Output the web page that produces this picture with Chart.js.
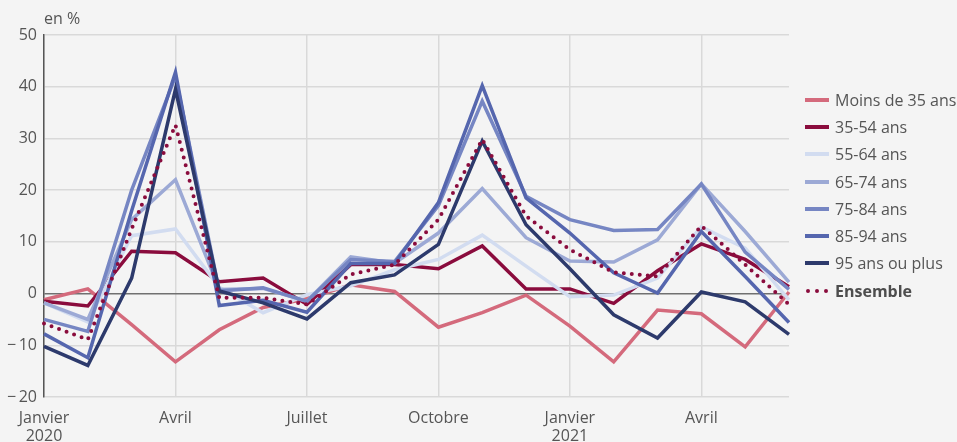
<!DOCTYPE html>
<html lang="fr">
<head>
<meta charset="utf-8">
<title>Évolution par âge</title>
<script src="https://cdn.jsdelivr.net/npm/chart.js@4.4.1/dist/chart.umd.min.js"></script>
<style>
    html, body { margin: 0; padding: 0; background: #f4f4f4; }
    .wrap { position: relative; width: 957px; height: 442px; font-family: "Open Sans", sans-serif; color: #555; }
    #chart { position: absolute; left: 0; top: 0; }
    .unit { position: absolute; left: 44px; top: 7px; font-size: 16px; color: #555; }
    .legend { position: absolute; left: 805px; top: 86px; margin: 0; padding: 0; list-style: none; }
    .legend li { display: flex; align-items: center; height: 27.3px; font-size: 16px; white-space: nowrap; }
    .legend li svg { width: 24px; height: 8px; margin-right: 6px; flex: none; }
    .legend li.bold { font-weight: 700; color: #4d4d4d; }
</style>
</head>
<body>
<div class="wrap">
    <canvas id="chart" width="957" height="442"></canvas>
    <div class="unit">en %</div>
    <ul class="legend" id="legend"></ul>
</div>
<script>
// mois de janvier 2020 à juin 2021
const months = ['2020-01', '2020-02', '2020-03', '2020-04', '2020-05', '2020-06',
    '2020-07', '2020-08', '2020-09', '2020-10', '2020-11', '2020-12',
    '2021-01', '2021-02', '2021-03', '2021-04', '2021-05', '2021-06'];

// libellés affichés sous l'axe (un tous les trois mois)
const tickLabels = {
    0: ['Janvier', '2020'],
    3: 'Avril',
    6: 'Juillet',
    9: 'Octobre',
    12: ['Janvier', '2021'],
    15: 'Avril'
};
const yTicks = [50, 40, 30, 20, 10, 0, -10, -20];

const seriesNames = ['Moins de 35 ans', '35-54 ans', '55-64 ans', '65-74 ans',
    '75-84 ans', '85-94 ans', '95 ans ou plus', 'Ensemble'];

const moins35 = [-1.2, 0.9, -6, -13.2, -7, -2.7, -1, 1.7, 0.4, -6.5, -3.7, -0.3, -6.3, -13.2, -3.2, -3.9, -10.3, 0.3];
const age35_54 = [-1.5, -2.4, 8.2, 7.9, 2.3, 3.0, -2.1, 5.6, 5.6, 4.8, 9.2, 0.9, 0.9, -1.9, 4.4, 9.6, 6.6, 1.3];
const age55_64 = [-1.8, -5.5, 11.2, 12.5, 1.2, -3.7, -0.2, 1.5, 4.6, 6.6, 11.3, 5.3, -0.6, -0.3, 3.0, 12.9, 8.8, -1.2];
const age65_74 = [-1.8, -5, 14.3, 22, 0.8, 1.0, -1.5, 7.1, 5.9, 11.7, 20.3, 10.8, 6.3, 6.1, 10.4, 21.2, 12, 2.2];
const age75_84 = [-5, -7.3, 20, 42, 0.5, 1.1, -1.5, 6.6, 6.2, 17, 37.2, 18.8, 14.3, 12.2, 12.4, 21.2, 8, 0.8];
const age85_94 = [-7.8, -12.4, 16, 42.8, -2.3, -1.3, -3.6, 5.8, 5.8, 17.6, 40.2, 18.5, 11.7, 4, 0.1, 12, 3.3, -5.6];
const age95plus = [-10.2, -13.9, 3, 39.5, 0.5, -1.8, -4.9, 2.1, 3.6, 9.5, 29.5, 13.3, 4.8, -4.1, -8.6, 0.3, -1.6, -7.9];
const ensemble = [-5.8, -8.9, 12.5, 32.6, -0.8, -0.8, -2.1, 3.7, 5.6, 14.3, 29.8, 15, 8.5, 4.1, 3.3, 13.1, 5.6, -2.1];

const allSeries = [moins35, age35_54, age55_64, age65_74, age75_84, age85_94, age95plus, ensemble];
const colors = ['#d46a7c', '#8a0c3d', '#d2dcf0', '#9ca9d5', '#7686c3', '#5566ae', '#2d3a6c', '#8a0c3d'];

const datasets = allSeries.map((data, i) => {
    const dotted = i === allSeries.length - 1;
    return {
        label: seriesNames[i],
        data: data,
        borderColor: colors[i],
        backgroundColor: colors[i],
        borderWidth: dotted ? 4 : 3.5,
        borderDash: dotted ? [0, 8] : [],
        borderCapStyle: dotted ? 'round' : 'butt',
        borderJoinStyle: 'miter',
        pointRadius: 0,
        tension: 0,
        fill: false,
        order: allSeries.length - 1 - i
    };
});

const ctx = document.getElementById('chart').getContext('2d');
const chart = new Chart(ctx, {
    type: 'line',
    data: { labels: months, datasets: datasets },
    options: {
        responsive: false,
        animation: false,
        layout: { padding: { left: 0, right: 168, top: 35, bottom: 0 } },
        plugins: { legend: { display: false }, tooltip: { enabled: false } },
        scales: {
            x: {
                offset: false,
                grid: {
                    color: c => (c.index % 3 === 0 ? '#d9d9d9' : 'rgba(0,0,0,0)'),
                    lineWidth: 1.5,
                    drawTicks: false
                },
                border: { display: false },
                ticks: {
                    autoSkip: false,
                    maxRotation: 0,
                    padding: 12,
                    color: '#555',
                    font: { family: 'Open Sans', size: 16, lineHeight: 1.15 },
                    callback: (v, i) => tickLabels[i] || ''
                },
                afterFit: s => { s.height = 45; }
            },
            y: {
                min: -20,
                max: 50,
                afterBuildTicks: s => { s.ticks = yTicks.map(v => ({ value: v })); },
                grid: {
                    color: c => (c.tick && c.tick.value === 0 ? '#707070' : '#d9d9d9'),
                    lineWidth: 1.5,
                    drawTicks: false
                },
                border: { display: true, color: '#555', width: 1.5 },
                ticks: {
                    padding: 7,
                    color: '#555',
                    font: { family: 'Open Sans', size: 16 },
                    callback: v => (v < 0 ? '\u2212\u2009' + Math.abs(v) : String(v))
                },
                afterFit: s => { s.width = 44; }
            }
        }
    }
});

// légende à droite
const legend = document.getElementById('legend');
datasets.forEach((ds, i) => {
    const li = document.createElement('li');
    const dotted = i === datasets.length - 1;
    if (dotted) li.className = 'bold';
    const line = dotted
        ? `<line x1="3" y1="4" x2="23" y2="4" stroke="${ds.borderColor}" stroke-width="4" stroke-linecap="round" stroke-dasharray="0 9"/>`
        : `<line x1="0" y1="4" x2="24" y2="4" stroke="${ds.borderColor}" stroke-width="4"/>`;
    li.innerHTML = `<svg viewBox="0 0 24 8">${line}</svg><span>${ds.label}</span>`;
    legend.appendChild(li);
});
</script>
</body>
</html>
